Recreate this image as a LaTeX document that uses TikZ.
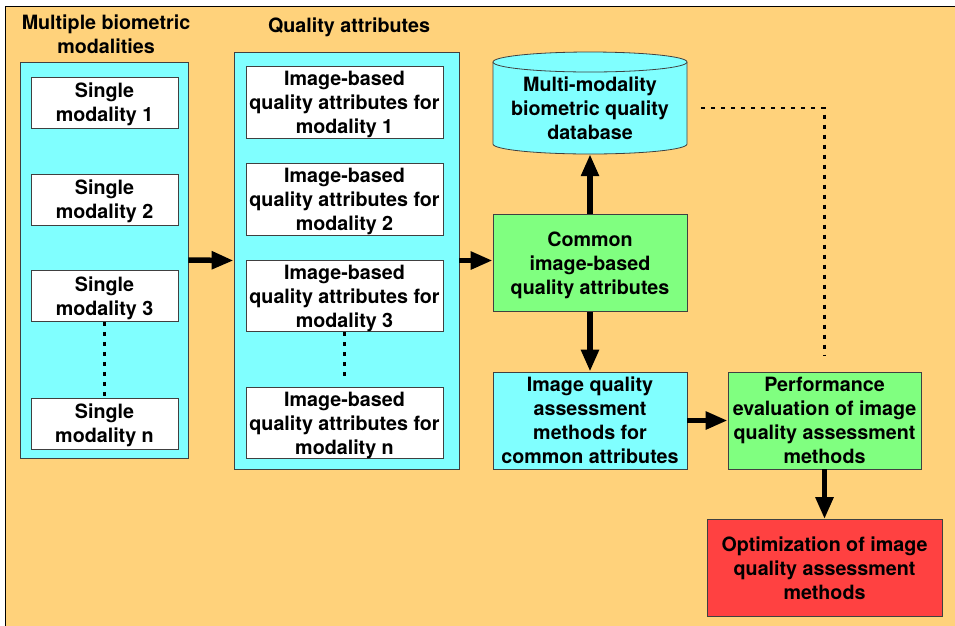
\documentclass[tikz,border=0pt]{standalone}
\usepackage{fontspec}
\setmainfont{TeX Gyre Heros}
\usetikzlibrary{arrows.meta}
\definecolor{bgorange}{HTML}{FFD27B}
\definecolor{cyanbox}{HTML}{80FFFF}
\definecolor{greenbox}{HTML}{80FF80}
\definecolor{redbox}{HTML}{FF4141}
\tikzset{
  lbl/.style={font=\fontsize{19.7}{24}\bfseries\selectfont,align=center,inner sep=0pt},
  anybox/.style={lbl,draw=black!75,line width=0.8pt,rectangle,text depth=0pt},
  whitebox/.style={anybox,fill=white},
  holder/.style={anybox,fill=cyanbox},
  thickarrow/.style={line width=5.5pt,-{Triangle[length=22pt,width=17pt]}},
  dotline/.style={line width=2.8pt,dash pattern=on 4pt off 6pt}
}
\begin{document}
\begin{tikzpicture}[x=1pt,y=-1pt]
\useasboundingbox (0,0) rectangle (955,625);
\draw[fill=bgorange,line width=0.8pt] (5,6) rectangle (958,628);
% titles
\node[lbl] (ttlmod) at (106,34) {Multiple biometric\\modalities};
\node[lbl] (ttlqa) at (349,27) {Quality attributes};
% left column
\node[holder,minimum width=168pt,minimum height=396pt] (modset) at (104,260) {};
\foreach \i/\y in {1/102.5,2/199.5,3/296}
  \node[whitebox,minimum width=147pt,minimum height=51pt] (sm\i) at (104.5,\y) {Single\\modality \i};
\node[whitebox,minimum width=147pt,minimum height=51pt] (smn) at (104.5,423.5) {Single\\modality n};
\draw[dotline] (sm3.south) -- (smn.north);
% middle column
\node[holder,minimum width=225pt,minimum height=417pt] (qaset) at (346.5,260.5) {};
\foreach \i/\y in {1/102.5,2/199.5,3/296}
  \node[whitebox,minimum width=197pt,minimum height=71.5pt] (qa\i) at (344.5,\y) {Image-based\\quality attributes for\\modality \i};
\node[whitebox,minimum width=197pt,minimum height=71.5pt] (qan) at (344.5,423) {Image-based\\quality attributes for\\modality n};
\draw[dotline,shorten >=9pt] (qa3.south) -- (qan.north);
% database drum
\draw[fill=cyanbox,draw=black!75,line width=0.8pt] (493,62) -- (493,144)
  arc[start angle=180,end angle=360,x radius=97pt,y radius=10pt] -- (687,62);
\draw[fill=cyanbox,draw=black!75,line width=0.8pt] (590,62) ellipse[x radius=97pt,y radius=10pt];
\node[lbl,text depth=0pt,minimum width=194pt,minimum height=92pt] (db) at (590,108) {Multi-modality\\biometric quality\\database};
% right part
\node[anybox,fill=greenbox,minimum width=194pt,minimum height=97pt] (common) at (590,263) {Common\\image-based\\quality attributes};
\node[anybox,fill=cyanbox,minimum width=194pt,minimum height=97pt] (iqa) at (590,420.5) {Image quality\\assessment\\methods for\\common attributes};
\node[anybox,fill=greenbox,minimum width=193pt,minimum height=97pt] (perf) at (824.5,420.5) {Performance\\evaluation of image\\quality assessment\\methods};
\node[anybox,fill=redbox,minimum width=235pt,minimum height=97pt] (opt) at (824.5,568) {Optimization of image\\quality assessment\\methods};
% arrows
\draw[thickarrow] (modset.east) -- (qaset.west);
\draw[thickarrow] (qaset.east) -- (qaset.east -| common.west);
\draw[thickarrow] (common.north) -- (db.south);
\draw[thickarrow] (common.south) -- (iqa.north);
\draw[thickarrow] (iqa.east) -- (perf.west);
\draw[thickarrow] (perf.south) -- (opt.north);
\draw[dotline] ([xshift=14pt]db.east) -| ([yshift=16pt]perf.north);
\end{tikzpicture}
\end{document}
